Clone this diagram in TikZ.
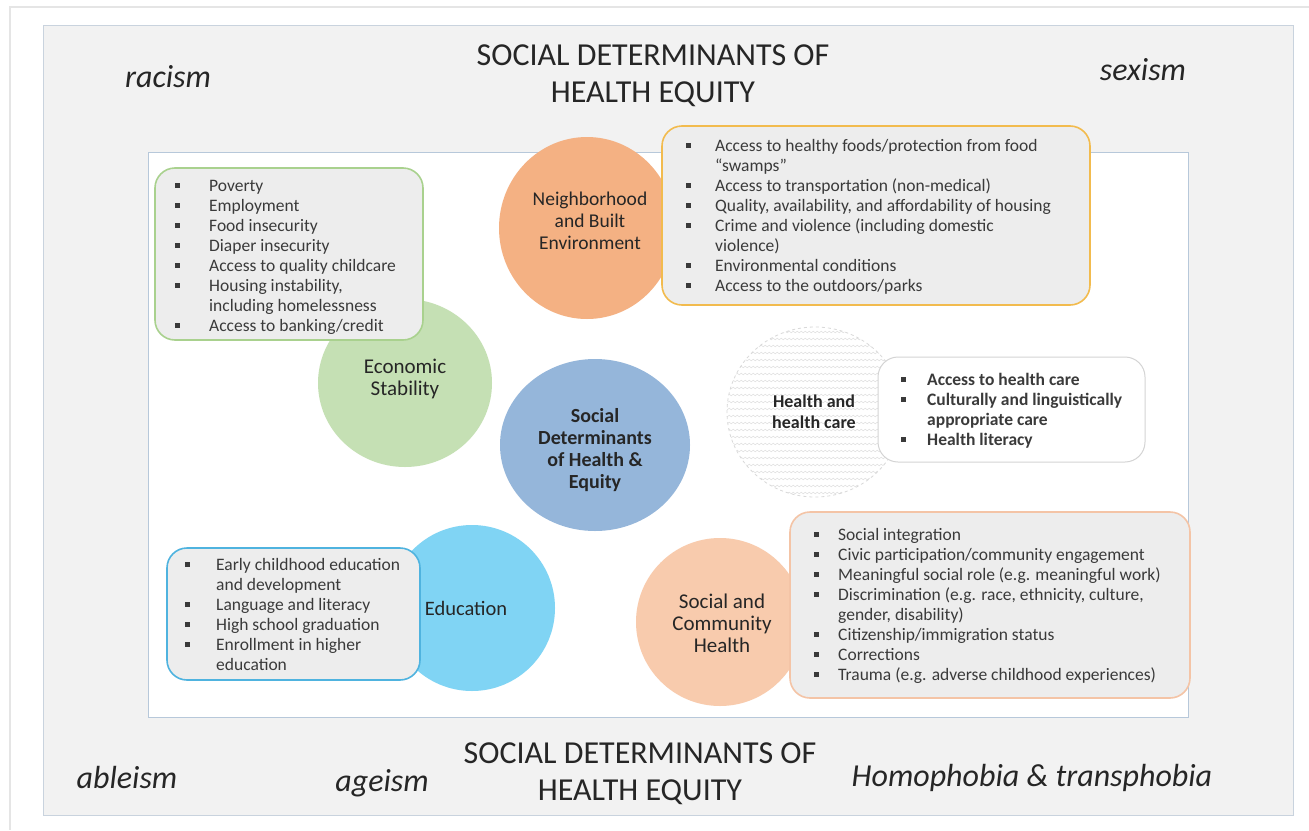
\documentclass[tikz,border=0pt]{standalone}
\usepackage{fontspec}
\setmainfont{Carlito}
\usetikzlibrary{shapes.geometric,decorations.pathmorphing}

\definecolor{panel}{HTML}{F2F2F2}
\definecolor{panelline}{HTML}{C9D3DE}
\definecolor{frameline}{HTML}{B7C8DA}
\definecolor{boxfill}{HTML}{EDEDED}
\definecolor{ink}{HTML}{262626}
\definecolor{listink}{HTML}{3A3A3A}
\definecolor{orangec}{HTML}{F4B183}
\definecolor{greenc}{HTML}{C5E0B4}
\definecolor{bluec}{HTML}{95B6DA}
\definecolor{cyanc}{HTML}{80D4F4}
\definecolor{peachc}{HTML}{F8CBAD}
\definecolor{greenline}{HTML}{A9D18E}
\definecolor{goldline}{HTML}{F2BB4E}
\definecolor{blueline}{HTML}{4FB3DF}
\definecolor{peachline}{HTML}{F4C4A6}
\definecolor{grayline}{HTML}{D4D4D4}

% square list bullet
\newcommand\sq{\raisebox{0.2em}{\rule{5pt}{5pt}}}
% bullet list: #1 bullet column width, #2 rows
\newcommand\blist[2]{%
  \fontsize{17.5}{20}\selectfont
  \renewcommand\arraystretch{1}%
  \begin{tabular}[t]{@{}p{#1}@{}l@{}}#2\end{tabular}}

\begin{document}
\begin{tikzpicture}[x=1pt,y=-1pt,
  disc/.style={ellipse, inner sep=0pt, draw=none},
  listbox/.style={rectangle, rounded corners=20pt, fill=boxfill, line width=1.6pt, inner sep=0pt},
  listtext/.style={anchor=base west, inner sep=0pt, text=listink},
  disclabel/.style={align=center, text=ink, font=\fontsize{20}{22}\selectfont},
  side/.style={anchor=base, inner sep=0pt, text=ink, font=\fontsize{32}{34}\selectfont\itshape},
  heading/.style={align=center, text=ink, font=\fontsize{32}{37}\selectfont}]

\useasboundingbox (0,0) rectangle (1309,830);
\fill[white] (0,0) rectangle (1309,830);

% sheet edge and the grey panel
\draw[gray!20, line width=1.5pt] (10,830) -- (10,7) -- (1309,7);
\draw[fill=panel, draw=panelline, line width=1pt] (43,25) rectangle (1293,815);
\draw[fill=white, draw=frameline, line width=1pt] (148,152) rectangle (1188,717);

% headings
\node[heading] (toptitle) at (653,76) {SOCIAL DETERMINANTS OF\\HEALTH EQUITY};
\node[heading] (bottitle) at (640,774) {SOCIAL DETERMINANTS OF\\HEALTH EQUITY};

\node[side] (racism) at (168,87) {racism};
\node[side] (sexism) at (1143,80) {sexism};
\node[side] (ableism) at (127,788) {ableism};
\node[side] (ageism) at (382,791) {ageism};
\node[side] (homo) at (1032,786) {Homophobia \& transphobia};

% discs
\node[disc, fill=orangec, minimum width=176pt, minimum height=182pt] (nbh) at (587,228) {};
\node[disc, fill=greenc, minimum width=174pt, minimum height=168pt] (econ) at (405,383) {};
\node[disc, fill=bluec, minimum width=190pt, minimum height=172pt] (sdh) at (595,445) {};
\node[disc, fill=cyanc, minimum width=166pt, minimum height=166pt] (edu) at (472,608) {};
\node[disc, fill=peachc, minimum width=168pt, minimum height=168pt] (soc) at (720,622) {};

% hatched health-care disc
\node[disc, fill=white, minimum width=178pt, minimum height=172pt] (hc) at (815,412) {};
\begin{scope}
  \clip (815,412) ellipse (88pt and 85pt);
  \foreach \yy in {332,339,...,497}
    \draw[gray!22, line width=0.6pt, decorate,
          decoration={snake, amplitude=0.8pt, segment length=4pt}] (720,\yy) -- (910,\yy);
\end{scope}
\draw[gray!30, dashed, line width=0.8pt] (815,412) ellipse (88pt and 85pt);

% disc labels
\node[disclabel, font=\fontsize{19.5}{22}\selectfont] (nbhlab) at (590,221) {Neighborhood\\and Built\\Environment};
\node[disclabel, font=\fontsize{21}{22}\selectfont] (econlab) at (405,379) {Economic\\Stability};
\node[disclabel, font=\fontsize{20}{22}\selectfont\bfseries] (sdhlab) at (595,450) {Social\\Determinants\\of Health \&\\Equity};
\node[disclabel, font=\fontsize{20.5}{22}\selectfont] (edulab) at (466,608) {Education};
\node[disclabel, font=\fontsize{21}{22}\selectfont] (soclab) at (722,623) {Social and\\Community\\Health};
\node[disclabel, font=\fontsize{18}{21}\selectfont\bfseries] (hclab) at (814,412) {Health and\\health care};

% Economic stability list
\node[listbox, draw=greenline, minimum width=268pt, minimum height=172pt] (econbox) at (289,254) {};
\node[listtext] (econlist) at (175,191) {\blist{34pt}{%
\sq & Poverty\\
\sq & Employment\\
\sq & Food insecurity\\
\sq & Diaper insecurity\\
\sq & Access to quality childcare\\
\sq & Housing instability,\\
    & including homelessness\\
\sq & Access to banking/credit}};

% Neighborhood list
\node[listbox, draw=goldline, minimum width=428pt, minimum height=179pt] (nbhbox) at (876,215.5) {};
\node[listtext] (nbhlist) at (686,151) {\blist{29pt}{%
\sq & Access to healthy foods/protection from food\\
    & ``swamps''\\
\sq & Access to transportation (non-medical)\\
\sq & Quality, availability, and affordability of housing\\
\sq & Crime and violence (including domestic\\
    & violence)\\
\sq & Environmental conditions\\
\sq & Access to the outdoors/parks}};

% Health care list
\node[listbox, fill=white, draw=grayline, line width=1pt, minimum width=267pt, minimum height=105pt] (hcbox) at (1011.5,409.5) {};
\node[listtext] (hclist) at (901,385) {\bfseries\blist{26pt}{%
\sq & Access to health care\\
\sq & Culturally and linguistically\\
    & appropriate care\\
\sq & Health literacy}};

% Education list
\node[listbox, draw=blueline, minimum width=253pt, minimum height=132pt] (edubox) at (293.5,614) {};
\node[listtext] (edulist) at (185,570) {\blist{31pt}{%
\sq & Early childhood education\\
    & and development\\
\sq & Language and literacy\\
\sq & High school graduation\\
\sq & Enrollment in higher\\
    & education}};

% Social and community list
\node[listbox, draw=peachline, minimum width=400pt, minimum height=186pt] (socbox) at (990,605) {};
\node[listtext] (soclist) at (814,540) {\blist{24pt}{%
\sq & Social integration\\
\sq & Civic participation/community engagement\\
\sq & Meaningful social role (e.g. meaningful work)\\
\sq & Discrimination (e.g. race, ethnicity, culture,\\
    & gender, disability)\\
\sq & Citizenship/immigration status\\
\sq & Corrections\\
\sq & Trauma (e.g. adverse childhood experiences)}};

\end{tikzpicture}
\end{document}
